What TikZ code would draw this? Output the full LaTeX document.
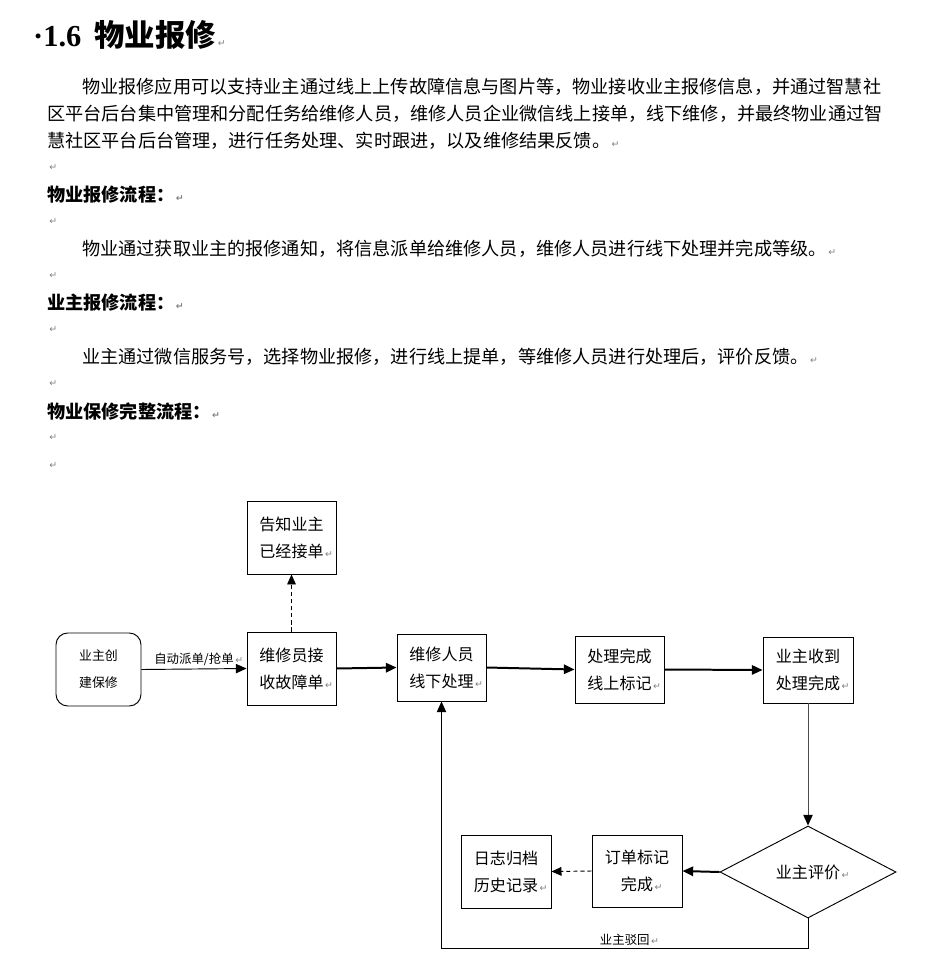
\documentclass[tikz,border=0pt]{standalone}
\usepackage{fontspec}
\setmainfont{Noto Sans CJK SC}
\newfontfamily\numfont{Liberation Serif}
\newfontfamily\markfont{DejaVu Sans}
\usepackage{xcolor}
\usetikzlibrary{shapes.geometric,arrows.meta,positioning}

% paragraph mark as Word shows it
\newcommand{\pmark}{\rlap{\markfont\color{gray}\fontsize{8}{8}\selectfont\,↵}}

\begin{document}
\begin{tikzpicture}[
    x=0.03cm, y=-0.03cm,
    bodytext/.style={anchor=west, inner sep=0pt, font=\fontsize{15.5}{15.5}\selectfont},
    headtext/.style={anchor=west, inner sep=0pt, font=\bfseries\fontsize{15.5}{15.5}\selectfont},
    blankline/.style={anchor=west, inner sep=0pt},
    procbox/.style={rectangle, draw=black, line width=0.8pt, minimum width=2.67cm, minimum height=2.19cm, inner sep=0pt, align=center, font=\fontsize{13.7}{23}\selectfont},
    startbox/.style={procbox, rounded corners=10pt, minimum width=2.55cm, font=\fontsize{11}{23}\selectfont},
    checkbox/.style={diamond, draw=black, line width=0.8pt, minimum width=5.28cm, minimum height=2.76cm, inner sep=0pt, font=\fontsize{13.7}{23}\selectfont},
    arrow/.style={-{Triangle[length=3.2mm, width=2.8mm, color=black]}, line width=0.8pt},
    boldarrow/.style={-{Triangle[length=3.2mm, width=2.8mm]}, line width=1.7pt},
    dasharrow/.style={-{Triangle[length=3mm, width=2.6mm]}, line width=0.8pt, dash pattern=on 3.5pt off 2.5pt},
    edgelabel/.style={font=\fontsize{10.6}{10.6}\selectfont, inner sep=2pt}
]
    \path[use as bounding box, fill=white] (0,0) rectangle (946,954);

    % Section heading and text
    \node (title) at (33,35) [anchor=west, inner sep=0pt] {{\numfont\bfseries\fontsize{26}{26}\selectfont ·1.6}\hspace{11pt}{\bfseries\fontsize{26}{26}\selectfont 物业报修}\pmark};
    \node (introa) at (82,87) [bodytext] {物业报修应用可以支持业主通过线上上传故障信息与图片等，物业接收业主报修信息，并通过智慧社};
    \node (introb) at (47,114) [bodytext] {区平台后台集中管理和分配任务给维修人员，维修人员企业微信线上接单，线下维修，并最终物业通过智};
    \node (introc) at (47,141) [bodytext] {慧社区平台后台管理，进行任务处理、实时跟进，以及维修结果反馈。\pmark};
    \node (blanka) at (47,168) [blankline] {\pmark};
    \node (propflow) at (47,195) [headtext] {物业报修流程：\pmark};
    \node (blankb) at (47,222) [blankline] {\pmark};
    \node (proptext) at (82,249) [bodytext] {物业通过获取业主的报修通知，将信息派单给维修人员，维修人员进行线下处理并完成等级。\pmark};
    \node (blankc) at (47,276) [blankline] {\pmark};
    \node (ownerflow) at (47,303) [headtext] {业主报修流程：\pmark};
    \node (blankd) at (47,330) [blankline] {\pmark};
    \node (ownertext) at (82,357) [bodytext] {业主通过微信服务号，选择物业报修，进行线上提单，等维修人员进行处理后，评价反馈。\pmark};
    \node (blanke) at (47,384) [blankline] {\pmark};
    \node (fullflow) at (47,411) [headtext] {物业保修完整流程：\pmark};
    \node (blankf) at (47,438) [blankline] {\pmark};
    \node (blankg) at (47,466) [blankline] {\pmark};

    % Top Row: repair order flow
    \node (notify) at (291.5,537.5) [procbox] {告知业主\\已经接单\pmark};
    \node (create) at (98.5,669.5) [startbox] {业主创\\建保修};
    \node (receive) at (291.5,668.5) [procbox] {维修员接\\收故障单\pmark};
    \node (offline) at (441.5,667.5) [procbox, minimum height=2.01cm] {维修人员\\线下处理\pmark};
    \node (marked) at (619.5,669.5) [procbox, minimum height=2.01cm] {处理完成\\线上标记\pmark};
    \node (received) at (808,670) [procbox, minimum width=2.7cm, minimum height=1.98cm] {业主收到\\处理完成\pmark};

    % Bottom Row: review and archive
    \node (review) at (808,872) [checkbox] {业主评价\pmark};
    \node (order) at (637,871) [procbox, minimum width=2.7cm, minimum height=2.16cm] {订单标记\\完成\pmark};
    \node (log) at (506,871.5) [procbox, minimum width=2.7cm] {日志归档\\历史记录\pmark};

    % 1. Dispatch and processing
    \draw [arrow] (create.east) -- node[above, edgelabel] {自动派单/抢单\pmark} (receive.west);
    \draw [dasharrow] (receive.north) -- (notify.south);
    \draw [boldarrow] (receive.east) -- (offline.west);
    \draw [boldarrow] (offline.east) -- (marked.west);
    \draw [boldarrow] (marked.east) -- (received.west);

    % 2. Owner review
    \draw [arrow, draw=black!70] (received.south) -- (review.north);
    \draw [boldarrow] (review.west) -- (order.east);
    \draw [dasharrow] (order.west) -- (log.east);

    % 3. Rejected by owner, back to offline processing
    \draw [arrow] (review.south) -- ++(0,30) -| node[pos=0.25, above, edgelabel] {业主驳回\pmark} (offline.south);

\end{tikzpicture}
\end{document}
